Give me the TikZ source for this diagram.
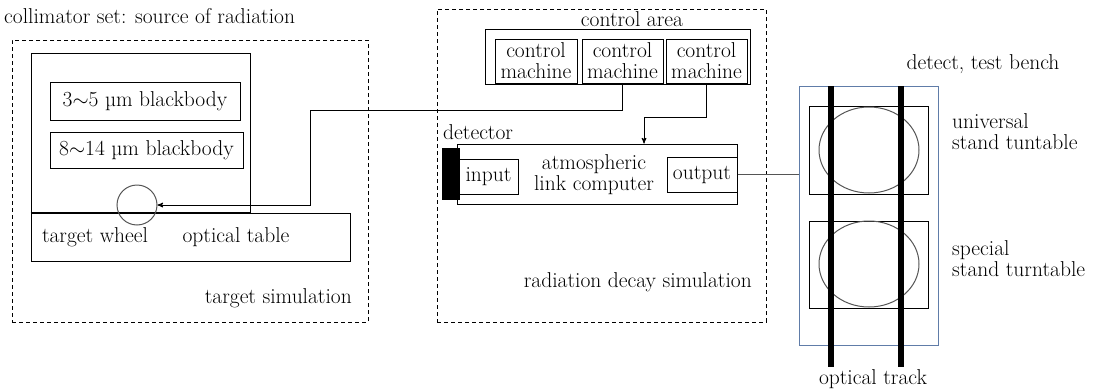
\documentclass[tikz,border=0pt]{standalone}
\usepackage{xcolor}
\usepackage{tikz}
\usetikzlibrary{arrows, positioning, shapes.geometric}

\definecolor{benchblue}{RGB}{96,124,168}
\definecolor{wheelgray}{RGB}{85,85,85}

\begin{document}
\begin{tikzpicture}[x=1pt,y=-1pt,
  font=\fontsize{21.5}{21}\selectfont,
  box/.style={draw,line width=1pt,inner sep=0pt},
  dashbox/.style={draw,line width=0.9pt,dash pattern=on 4pt off 3pt,inner sep=0pt},
  txt/.style={inner sep=0pt,align=left},
  link/.style={-stealth',line width=1pt}]
\useasboundingbox (0,0) rectangle (1105,391);

% target simulation
\node[txt,anchor=west] (colltitle) at (4,16) {collimator set: source of radiation};
\node[dashbox,minimum width=356pt,minimum height=282pt] (tsim) at (190,181) {};
\node[box,minimum width=219pt,minimum height=159pt] (coll) at (140.5,132.5) {};
\node[box,minimum width=190pt,minimum height=38pt] (bb1) at (145,101) {3$\sim$5 \textmu m blackbody};
\node[box,minimum width=193pt,minimum height=36pt] (bb2) at (146.5,150) {8$\sim$14 \textmu m blackbody};
\node[box,minimum width=319pt,minimum height=48pt] (table) at (190.5,237) {};
\draw[line width=2pt] (coll.south west) -- (coll.south east);
\node[circle,draw=wheelgray,line width=1pt,minimum size=40pt,inner sep=0pt] (wheel) at (137,205) {};
\node[txt] (wheeltxt) at (95,237) {target wheel};
\node[txt] (tabletxt) at (236,237) {optical table};
\node[txt,anchor=east] (tsimtxt) at (352,298) {target simulation};

% radiation decay simulation
\node[dashbox,minimum width=329pt,minimum height=313pt] (rsim) at (601.5,165.5) {};
\node[txt] (areatxt) at (632,19) {control area};
\node[box,minimum width=265pt,minimum height=55pt] (area) at (617.5,56.5) {};
\node[box,align=center,minimum width=82pt,minimum height=44pt] (cm1) at (536,61) {control\\machine};
\node[box,align=center,minimum width=81pt,minimum height=44pt] (cm2) at (622.5,61) {control\\machine};
\node[box,align=center,minimum width=81pt,minimum height=44pt] (cm3) at (706.5,61) {control\\machine};
\node[box,minimum width=280pt,minimum height=60pt] (comp) at (597,174) {};
\node[txt,align=center] (comptxt) at (594,175) {atmospheric\\link computer};
\node[box,minimum width=59pt,minimum height=35pt] (input) at (488.5,176.5) {input};
\node[box,minimum width=70pt,minimum height=35pt] (output) at (702,174.5) {output};
\node[fill=black,draw=black,minimum width=17pt,minimum height=51pt,inner sep=0pt] (detector) at (450.5,173.5) {};
\node[txt,anchor=west] (dettxt) at (443,132) {detector};
\node[txt,anchor=east] (rsimtxt) at (752,282) {radiation decay simulation};

\coordinate (bend) at (310,110);
\draw[link] (cm2.south) |- (bend) |- (wheel.east);
\coordinate (cbend) at (644,117);
\draw[link] (cm3.south) |- (cbend) -- (cbend |- comp.north);

% test bench
\node[draw=benchblue,line width=1pt,minimum width=139pt,minimum height=259pt,inner sep=0pt] (bench) at (868.5,215.5) {};
\draw[wheelgray,line width=1pt] (output.east) -- (output.east -| bench.west);
\node[box,minimum width=119pt,minimum height=88pt] (tt1) at (868.5,150) {};
\node[box,minimum width=119pt,minimum height=87pt] (tt2) at (868.5,264.5) {};
\node[ellipse,draw=wheelgray,line width=1pt,minimum width=100pt,minimum height=86pt,inner sep=0pt] (disc1) at (869,150) {};
\node[ellipse,draw=wheelgray,line width=1pt,minimum width=100pt,minimum height=86pt,inner sep=0pt] (disc2) at (869,264) {};
\coordinate (trackA) at (831,86);
\coordinate (trackB) at (901,86);
\draw[line width=6pt] (trackA) -- ++(0,281);
\draw[line width=6pt] (trackB) -- ++(0,281);
\node[txt] (benchtxt) at (983,64) {detect, test bench};
\node[txt,anchor=west] (tt1txt) at (952,132) {universal\\stand tuntable};
\node[txt,anchor=west] (tt2txt) at (952,259) {special\\stand turntable};
\node[txt] (tracktxt) at (873,379) {optical track};
\end{tikzpicture}
\end{document}
